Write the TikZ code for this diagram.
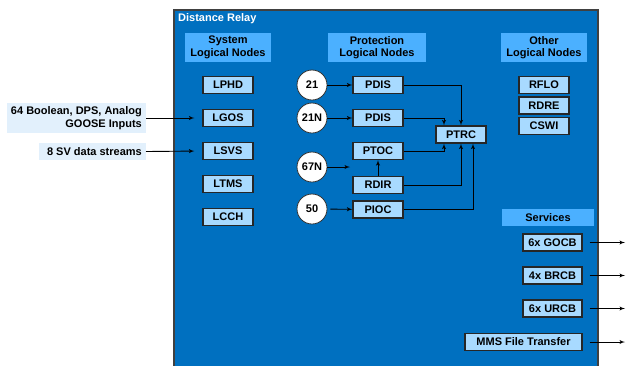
\documentclass[tikz,border=0pt]{standalone}
\usepackage{fontspec}
\setmainfont{Liberation Sans}
\usetikzlibrary{arrows}
\definecolor{relayblue}{HTML}{0070C0}
\definecolor{hdrblue}{HTML}{4BB0FF}
\definecolor{lnblue}{HTML}{A8DAFF}
\definecolor{inblue}{HTML}{E2F0FC}
\tikzset{
    every node/.style={font=\fontsize{11pt}{12.5pt}\selectfont\bfseries},
    lnode/.style={rectangle,draw=black!85,line width=1.2pt,fill=lnblue,minimum width=50pt,minimum height=17pt,inner sep=0pt},
    hdr/.style={rectangle,fill=hdrblue,align=center,inner sep=0pt,minimum height=29pt},
    func/.style={circle,draw=black!80,line width=0.8pt,fill=white,minimum size=30pt,inner sep=0pt},
    inlbl/.style={rectangle,fill=inblue,align=right,inner xsep=4pt,inner ysep=0pt,minimum height=17pt,anchor=east},
    dedge/.style={->,> = latex',line width=0.9pt},
}

\begin{document}
\begin{tikzpicture}[x=1pt,y=-1pt]
    \useasboundingbox (0,0) rectangle (626,365);
    \draw[fill=relayblue,draw=black!75,line width=1.5pt] (174,10) rectangle (598,370);
    \node[anchor=north west,text=white,inner sep=0pt] (title) at (178,13) {Distance Relay};

    \node[hdr,minimum width=86pt] (hsys) at (228,47.5) {System\\Logical Nodes};
    \node[hdr,minimum width=98pt] (hprot) at (377,47.5) {Protection\\Logical Nodes};
    \node[hdr,minimum width=86pt] (hoth) at (544,47.5) {Other\\Logical Nodes};
    \node[hdr,minimum width=92pt,minimum height=17pt] (hserv) at (548,217.5) {Services};

    \node[lnode] (lphd) at (228,85) {LPHD};
    \node[lnode] (lgos) at (228,118) {LGOS};
    \node[lnode] (lsvs) at (228,151) {LSVS};
    \node[lnode] (ltms) at (228,184) {LTMS};
    \node[lnode] (lcch) at (228,217) {LCCH};

    \node[func] (c21) at (312,85) {21};
    \node[func] (c21n) at (312,118) {21N};
    \node[func] (c67n) at (312,167) {67N};
    \node[func] (c50) at (312,209) {50};

    \node[lnode] (pdis1) at (378,85) {PDIS};
    \node[lnode] (pdis2) at (378,118) {PDIS};
    \node[lnode] (ptoc) at (378,151) {PTOC};
    \node[lnode] (rdir) at (378,185) {RDIR};
    \node[lnode] (pioc) at (378,209.5) {PIOC};
    \node[lnode] (ptrc) at (461,134.5) {PTRC};

    \node[lnode] (rflo) at (544,85) {RFLO};
    \node[lnode] (rdre) at (544,105.5) {RDRE};
    \node[lnode] (cswi) at (544,126) {CSWI};

    \node[lnode,minimum width=59pt] (gocb) at (552.5,242.5) {6x GOCB};
    \node[lnode,minimum width=59pt] (brcb) at (552.5,275.5) {4x BRCB};
    \node[lnode,minimum width=59pt] (urcb) at (552.5,308.5) {6x URCB};
    \node[lnode,minimum width=117pt] (mms) at (523.5,342) {MMS File Transfer};

    \node[inlbl,minimum height=30pt] (goose) at (146,118) {64 Boolean, DPS, Analog\\GOOSE Inputs};
    \node[inlbl,inner xsep=0pt] (sv) at (146,151.5) {\hspace{8pt}8 SV data streams\hspace{4pt}};

    \coordinate (t67) at (350,167);
    \coordinate (o1) at (625,242.5);
    \coordinate (o2) at (625,275.5);
    \coordinate (o3) at (625,308.5);
    \coordinate (o4) at (625,342);

    \draw[dedge,shorten >=8pt] (goose.east) -- (lgos.west);
    \draw[dedge,shorten >=8pt] (sv.east) -- (lsvs.west);
    \draw[dedge] (c21) -- (pdis1);
    \draw[dedge] (c21n) -- (pdis2);
    \draw[dedge] (c67n) -- (t67);
    \draw[dedge,shorten <=3pt] (c50) -- (pioc);
    \draw[dedge] (rdir) -- (ptoc);
    \draw[dedge] (pdis1.east) -| (ptrc.north);
    \draw[dedge] (pdis2.east) -| ([xshift=-17pt]ptrc.north);
    \draw[dedge] (ptoc.east) -| ([xshift=-17pt]ptrc.south);
    \draw[dedge] (rdir.east) -| (ptrc.south);
    \draw[dedge] (pioc.east) -| ([xshift=12pt]ptrc.south);
    \draw[dedge,shorten <=7pt] (gocb.east) -- (o1);
    \draw[dedge,shorten <=7pt] (brcb.east) -- (o2);
    \draw[dedge,shorten <=7pt] (urcb.east) -- (o3);
    \draw[dedge,shorten <=7pt] (mms.east) -- (o4);
\end{tikzpicture}
\end{document}
